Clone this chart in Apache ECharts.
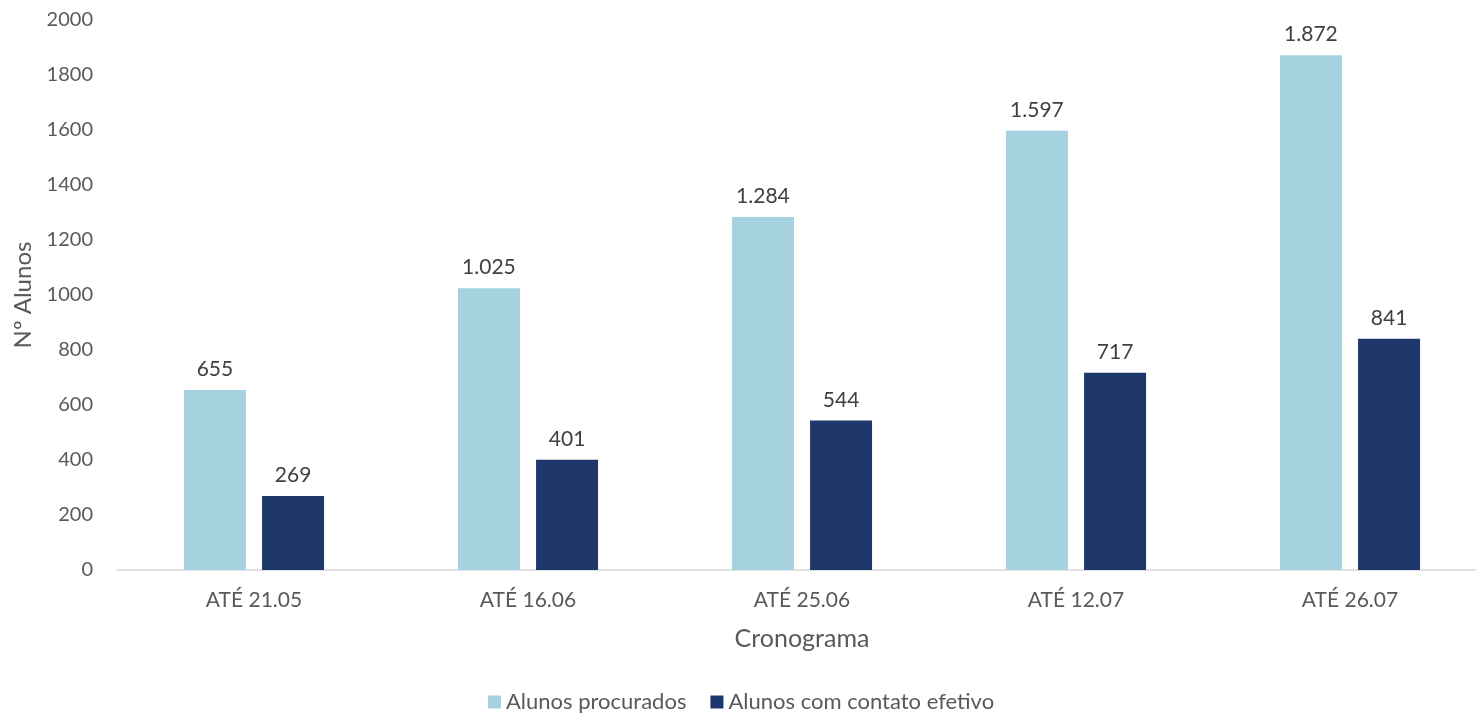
<!DOCTYPE html>
<html lang="pt">
<head>
	<meta charset="UTF-8">
	<title>Alunos</title>
	<script src="https://cdn.jsdelivr.net/npm/echarts@6/dist/echarts.min.js"></script>
	<style>
		body { margin: 0; background: #fff; overflow: hidden; }
	</style>
</head>
<body>
	<div id="main" style="width:1500px;height:720px;"></div>
	<script type="text/javascript">
        var categorias = ['ATÉ 21.05', 'ATÉ 16.06', 'ATÉ 25.06', 'ATÉ 12.07', 'ATÉ 26.07'];
        var procurados = [655, 1025, 1284, 1597, 1872];
        var contatoEfetivo = [269, 401, 544, 717, 841];

        var fonte = 'Lato, "Open Sans", sans-serif';

        // separador de milhar com ponto
        function fmt(p) {
            return String(p.value).replace(/\B(?=(\d{3})+(?!\d))/g, '.');
        }

        var myChart = echarts.init(document.getElementById('main'));
        myChart.setOption({
            textStyle: { fontFamily: fonte },
            legend: {
                bottom: 2,
                left: 483,
                itemWidth: 13,
                itemHeight: 13,
                itemGap: 24,
                icon: 'rect',
                textStyle: { fontSize: 22, color: '#595959', fontFamily: fonte },
                data: ['Alunos procurados', 'Alunos com contato efetivo']
            },
            grid: { left: 117, top: 20, width: 1370, height: 550 },
            xAxis: {
                type: 'category',
                data: categorias,
                name: 'Cronograma',
                nameLocation: 'middle',
                nameGap: 56,
                nameTextStyle: { fontSize: 25, color: '#595959' },
                axisLine: { lineStyle: { color: '#D9D9D9', width: 1.5 } },
                axisTick: { show: false },
                axisLabel: { fontSize: 21, color: '#595959', margin: 20 }
            },
            yAxis: {
                type: 'value',
                min: 0,
                max: 2000,
                interval: 200,
                name: 'Nº Alunos',
                nameLocation: 'middle',
                nameGap: 76,
                nameTextStyle: { fontSize: 24, color: '#595959' },
                axisLine: { show: false },
                axisTick: { show: false },
                splitLine: { show: false },
                axisLabel: { fontSize: 20, color: '#595959', margin: 24, formatter: function (v) { return String(v); } }
            },
            series: [{
                name: 'Alunos procurados',
                type: 'bar',
                data: procurados,
                barWidth: 62,
                barGap: '26%',
                itemStyle: { color: '#A5D2DE' },
                label: { show: true, position: 'top', distance: 10, fontSize: 21, color: '#404040', formatter: fmt }
            }, {
                name: 'Alunos com contato efetivo',
                type: 'bar',
                data: contatoEfetivo,
                barWidth: 62,
                itemStyle: { color: '#1F386B' },
                label: { show: true, position: 'top', distance: 10, fontSize: 21, color: '#404040', formatter: fmt }
            }]
        });
    </script>
</body>
</html>
